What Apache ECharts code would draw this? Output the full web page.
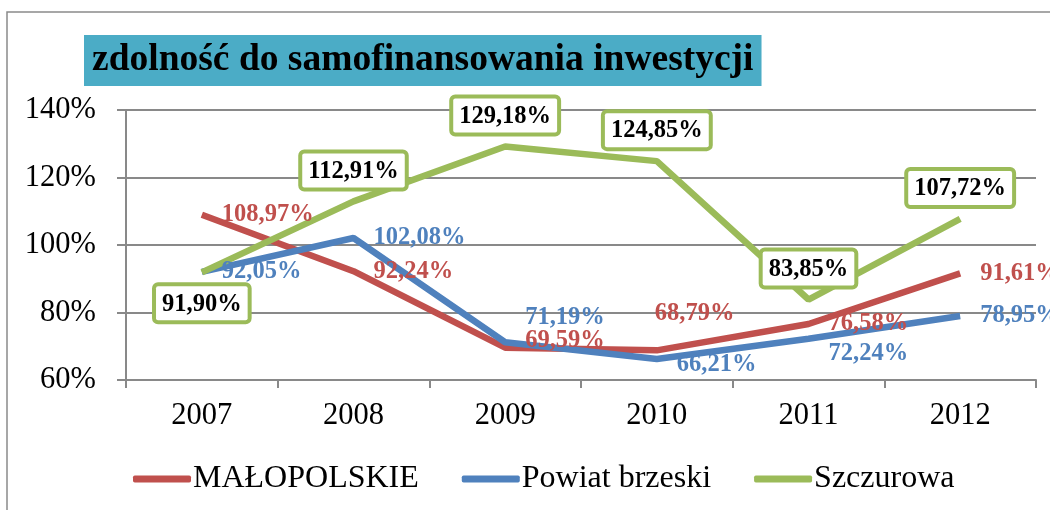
<!DOCTYPE html>
<html>
<head>
    <meta charset="utf-8">
    <title>zdolność do samofinansowania inwestycji</title>
    <script src="https://cdn.jsdelivr.net/npm/echarts@6/dist/echarts.min.js"></script>
    <style>
        html, body { margin: 0; padding: 0; background: #fff; }
    </style>
</head>
<body>
    <div id="main" style="width:1050px;height:510px;"></div>
    <script type="text/javascript">
        // dane z wykresu
        var years = ['2007', '2008', '2009', '2010', '2011', '2012'];
        var malopolskie = [108.97, 92.24, 69.59, 68.79, 76.58, 91.61];
        var powiatBrzeski = [92.05, 102.08, 71.19, 66.21, 72.24, 78.95];
        var szczurowa = [91.90, 112.91, 129.18, 124.85, 83.85, 107.72];
        var yTicks = [60, 80, 100, 120, 140];

        // przesunięcia etykiet, żeby nie nachodziły na siebie
        var redShift = [[0, 0], [0, 0], [0, -7], [-22, -37], [0, 0], [0, 0]];
        var blueShift = [[0, 0], [0, 0], [0, -25], [0, 6], [0, 15], [0, 0]];
        var greenPos = ['bottom', 'top', 'top', 'top', 'top', 'top'];

        var serif = "'Liberation Serif', 'Times New Roman', serif";
        var RED = '#C0504D', BLUE = '#4F81BD', GREEN = '#9BBB59', GRAY = '#898989';

        function fmt(p) {
            return p.value.toFixed(2).replace('.', ',') + '%';
        }

        var myChart = echarts.init(document.getElementById('main'));
        myChart.setOption({
            animation: false,
            backgroundColor: '#fff',
            graphic: [{
                type: 'rect',
                z: -10,
                shape: { x: 7, y: 12, width: 1100, height: 600 },
                style: { fill: 'none', stroke: '#8a8a8a', lineWidth: 1.5 }
            }],
            title: {
                text: 'zdolność do samofinansowania inwestycji',
                left: 84,
                top: 35,
                padding: [4, 8],
                backgroundColor: '#4BACC6',
                textStyle: { fontFamily: serif, fontSize: 37.5, fontWeight: 'bold', color: '#000', lineHeight: 43 }
            },
            legend: {
                left: 128,
                top: 458,
                icon: 'roundRect',
                itemWidth: 58,
                itemHeight: 7,
                itemGap: 43,
                textStyle: { fontFamily: serif, fontSize: 32, color: '#000', padding: [0, 0, 0, -3] },
                data: ['MAŁOPOLSKIE', 'Powiat brzeski', 'Szczurowa']
            },
            grid: { left: 126, right: 14, top: 110, bottom: 130 },
            xAxis: {
                type: 'category',
                data: years,
                boundaryGap: true,
                axisLine: { lineStyle: { color: GRAY, width: 2 } },
                axisTick: { show: true, length: 8, lineStyle: { color: GRAY, width: 2 } },
                axisLabel: { fontFamily: serif, fontSize: 30.5, color: '#000', margin: 20, interval: 0 }
            },
            yAxis: {
                type: 'value',
                min: yTicks[0],
                max: yTicks[yTicks.length - 1],
                interval: 20,
                axisLine: { show: true, lineStyle: { color: GRAY, width: 2 } },
                axisTick: { show: true, length: 9, lineStyle: { color: GRAY, width: 2 } },
                splitLine: { lineStyle: { color: GRAY, width: 2 } },
                axisLabel: { fontFamily: serif, fontSize: 30.5, color: '#000', margin: 30, formatter: '{value}%' }
            },
            series: [
                {
                    name: 'MAŁOPOLSKIE',
                    type: 'line',
                    symbol: 'circle',
                    symbolSize: 0,
                    color: RED,
                    lineStyle: { width: 6.5, color: RED },
                    label: {
                        show: true, position: 'right', distance: 20, formatter: fmt,
                        fontFamily: serif, fontSize: 24.5, fontWeight: 'bold', color: RED
                    },
                    data: malopolskie.map(function (v, i) {
                        return { value: v, label: { offset: redShift[i] } };
                    })
                },
                {
                    name: 'Powiat brzeski',
                    type: 'line',
                    symbol: 'circle',
                    symbolSize: 0,
                    color: BLUE,
                    lineStyle: { width: 6.5, color: BLUE },
                    label: {
                        show: true, position: 'right', distance: 20, formatter: fmt,
                        fontFamily: serif, fontSize: 24.5, fontWeight: 'bold', color: BLUE
                    },
                    data: powiatBrzeski.map(function (v, i) {
                        return { value: v, label: { offset: blueShift[i] } };
                    })
                },
                {
                    name: 'Szczurowa',
                    type: 'line',
                    symbol: 'circle',
                    symbolSize: 0,
                    color: GREEN,
                    lineStyle: { width: 6.5, color: GREEN },
                    label: {
                        show: true, distance: 14, formatter: fmt,
                        fontFamily: serif, fontSize: 24.5, fontWeight: 'bold', color: '#000',
                        backgroundColor: '#fff', borderColor: GREEN, borderWidth: 4, borderRadius: 2,
                        padding: [6, 6, 4, 6], lineHeight: 24
                    },
                    data: szczurowa.map(function (v, i) {
                        return { value: v, label: { position: greenPos[i] } };
                    })
                }
            ]
        });
    </script>
</body>
</html>
